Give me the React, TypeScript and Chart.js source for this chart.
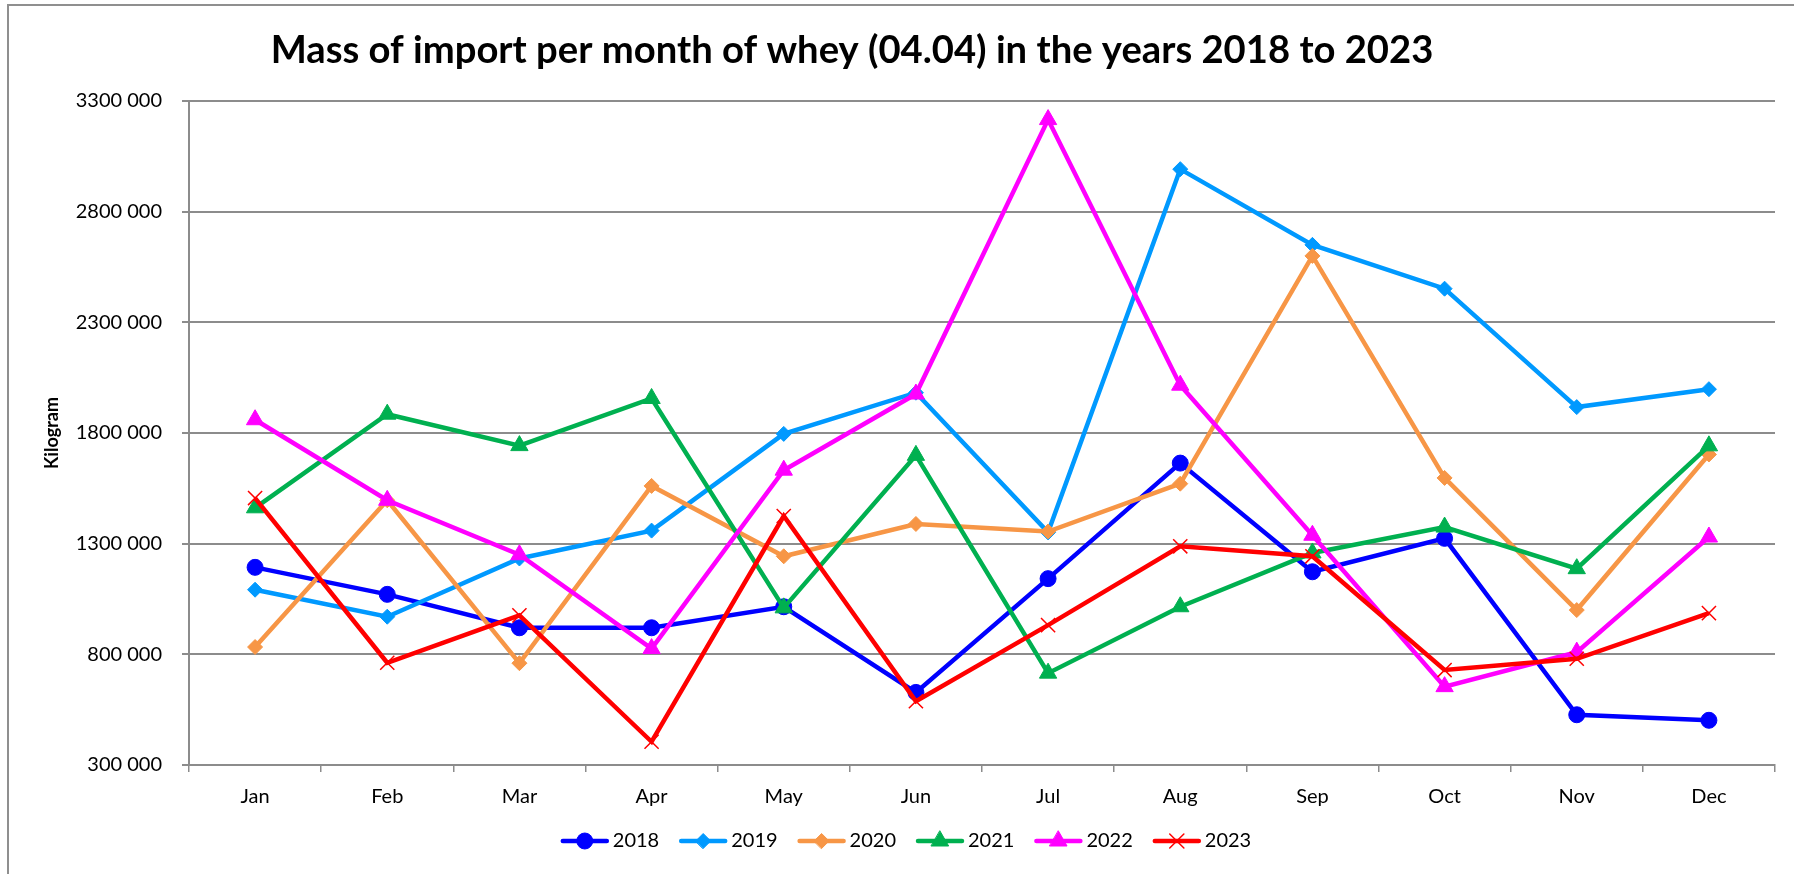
import React, { useEffect, useRef } from "react";
import { Chart, registerables } from "chart.js";
import { drawPoint } from "chart.js/helpers";

Chart.register(...registerables);

const months = ["Jan", "Feb", "Mar", "Apr", "May", "Jun", "Jul", "Aug", "Sep", "Oct", "Nov", "Dec"];
const years = ["2018", "2019", "2020", "2021", "2022", "2023"];

const v2018 = [1193000, 1071000, 920000, 920000, 1015000, 628000, 1142000, 1664000, 1173000, 1324000, 527000, 502000];
const v2019 = [1092000, 970000, 1233000, 1359000, 1796000, 1982000, 1351000, 2992000, 2650000, 2452000, 1917000, 1998000];
const v2020 = [833000, 1496000, 760000, 1561000, 1243000, 1389000, 1355000, 1571000, 2600000, 1597000, 1000000, 1703000];
const v2021 = [1462000, 1885000, 1743000, 1956000, 1010000, 1699000, 715000, 1015000, 1258000, 1375000, 1187000, 1742000];
const v2022 = [1860000, 1496000, 1250000, 826000, 1632000, 1976000, 3216000, 2016000, 1338000, 654000, 810000, 1330000];
const v2023 = [1506000, 762000, 976000, 405000, 1425000, 588000, 932000, 1288000, 1243000, 729000, 780000, 986000];

const yTickValues = [300000, 800000, 1300000, 1800000, 2300000, 2800000, 3300000];

const titleText = "Mass of import per month of whey (04.04) in the years 2018 to 2023";
const yAxisTitle = "Kilogram";

const seriesValues = [v2018, v2019, v2020, v2021, v2022, v2023];
const colors = ["#0000FF", "#0099FF", "#F79646", "#00B050", "#FF00FF", "#FF0000"];
const pointStyles = ["circle", "rectRot", "rectRot", "triangle", "triangle", "crossRot"];
const pointRadii = [8, 7.5, 7.5, 10, 10, 10];
const pointBorderWidths = [1, 1, 1, 1, 1, 1.5];

const FONT = "Lato, 'Open Sans', sans-serif";
const GRID = "#8c8c8c";

const fmt = (v: number) => {
  const th = Math.floor(v / 1000);
  const rest = String(Math.round(v % 1000)).padStart(3, "0");
  return `${th} ${rest}`;
};

const titlePlugin = {
  id: "customTitle",
  afterDraw(chart: any) {
    const ctx = chart.ctx;
    ctx.save();
    ctx.font = `bold 32px ${FONT}`;
    const w = ctx.measureText(titleText).width;
    const size = (32 * 1163) / w;
    ctx.font = `bold ${size}px ${FONT}`;
    ctx.fillStyle = "#000";
    ctx.textAlign = "center";
    ctx.textBaseline = "middle";
    ctx.fillText(titleText, 852, 51);
    ctx.restore();
  },
};

const legendPlugin = {
  id: "customLegend",
  afterDraw(chart: any) {
    const ctx = chart.ctx;
    ctx.save();
    ctx.font = `20px ${FONT}`;
    const lineLen = 48;
    const gap = 4;
    const spacing = 20;
    const widths = years.map((y) => lineLen + gap + ctx.measureText(y).width);
    const total = widths.reduce((a, b) => a + b, 0) + spacing * (years.length - 1);
    let x = 906 - total / 2;
    const y = 841;
    years.forEach((label, i) => {
      ctx.strokeStyle = colors[i];
      ctx.lineWidth = 4.5;
      ctx.lineCap = "round";
      ctx.beginPath();
      ctx.moveTo(x + 2, y);
      ctx.lineTo(x + lineLen - 2, y);
      ctx.stroke();
      ctx.fillStyle = colors[i];
      ctx.strokeStyle = colors[i];
      ctx.lineWidth = pointBorderWidths[i];
      drawPoint(ctx, { pointStyle: pointStyles[i], radius: pointRadii[i], borderWidth: pointBorderWidths[i], rotation: 0 } as any, x + lineLen / 2, y);
      ctx.fillStyle = "#000";
      ctx.textAlign = "left";
      ctx.textBaseline = "middle";
      ctx.fillText(label, x + lineLen + gap, y);
      x += widths[i] + spacing;
    });
    ctx.restore();
  },
};

export default function App() {
  const ref = useRef<HTMLCanvasElement | null>(null);

  useEffect(() => {
    if (!ref.current) return;
    const datasets = years.map((label, i) => ({
      label,
      data: seriesValues[i],
      borderColor: colors[i],
      backgroundColor: colors[i],
      borderWidth: 4.5,
      pointStyle: pointStyles[i],
      pointRadius: pointRadii[i],
      pointHoverRadius: pointRadii[i],
      pointBackgroundColor: colors[i],
      pointBorderColor: colors[i],
      pointBorderWidth: pointBorderWidths[i],
      tension: 0,
      fill: false,
      order: years.length - i,
    }));

    const chart = new Chart(ref.current, {
      type: "line",
      data: { labels: months, datasets },
      options: {
        responsive: false,
        animation: false,
        devicePixelRatio: 1,
        layout: { padding: { top: 101, right: 19, bottom: 58, left: 0 } },
        plugins: {
          legend: { display: false },
          title: { display: false },
          tooltip: { enabled: false },
        },
        scales: {
          x: {
            type: "category",
            offset: true,
            afterFit: (scale: any) => {
              scale.height = 51;
            },
            grid: {
              display: true,
              offset: true,
              drawOnChartArea: false,
              drawTicks: true,
              tickLength: 7,
              color: GRID,
              lineWidth: 1.5,
            },
            border: { display: true, color: GRID, width: 2 },
            ticks: {
              font: { family: FONT, size: 20 },
              color: "#000",
              padding: 13,
              maxRotation: 0,
              autoSkip: false,
            },
          },
          y: {
            min: 300000,
            max: 3300000,
            afterFit: (scale: any) => {
              scale.width = 189;
            },
            afterBuildTicks: (scale: any) => {
              scale.ticks = yTickValues.map((v) => ({ value: v }));
            },
            grid: {
              color: GRID,
              lineWidth: 2,
              drawTicks: true,
              tickLength: 7,
            },
            border: { display: true, color: GRID, width: 2 },
            ticks: {
              font: { family: FONT, size: 20 },
              color: "#000",
              padding: 20,
              callback: (v: any) => fmt(Number(v)),
            },
            title: {
              display: true,
              text: yAxisTitle,
              font: { family: FONT, size: 18, weight: "bold" },
              color: "#000",
              padding: { top: 41, bottom: 0 },
            },
          },
        },
      },
      plugins: [titlePlugin, legendPlugin],
    } as any);

    return () => chart.destroy();
  }, []);

  return (
    <div style={{ position: "fixed", left: 0, top: 0, width: 1794, height: 874, background: "#fff", overflow: "hidden" }}>
      <div
        style={{
          position: "absolute",
          left: 7,
          top: 4,
          width: 2000,
          height: 1000,
          borderLeft: "2px solid #8f8f8f",
          borderTop: "2px solid #8f8f8f",
          boxSizing: "border-box",
        }}
      />
      <canvas ref={ref} width={1794} height={874} style={{ position: "absolute", left: 0, top: 0, display: "block" }} />
    </div>
  );
}
